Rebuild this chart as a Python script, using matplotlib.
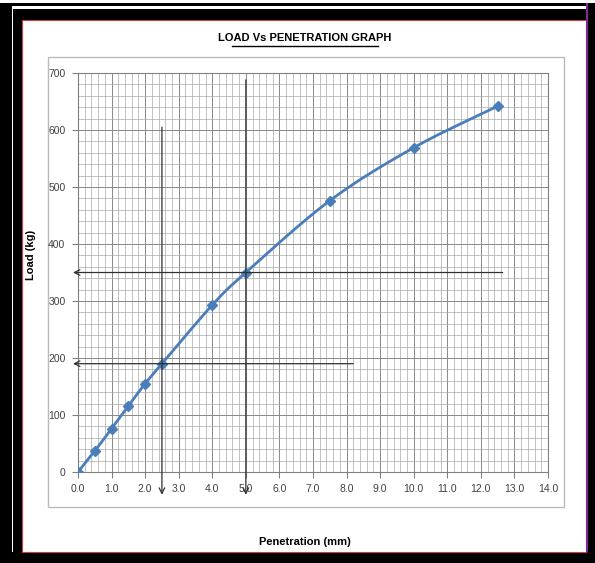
import numpy as np
import matplotlib.pyplot as plt
from matplotlib.patches import Rectangle
from matplotlib.lines import Line2D

# CBR test readings
penetration = [0.0, 0.5, 1.0, 1.5, 2.0, 2.5, 4.0, 5.0, 7.5, 10.0, 12.5]
load = [0, 37, 76, 116, 155, 190, 293, 350, 476, 569, 642]

read_pen = [2.5, 5.0]
read_load = [190, 350]

x_ticks = np.arange(0, 14.5, 1.0)
y_ticks = np.arange(0, 701, 100)

plt.rcParams['font.family'] = ['Liberation Sans Narrow', 'Liberation Sans', 'DejaVu Sans']

W, H = 595, 563


def smooth(xs, ys, n=30):
    # catmull-rom style curve through the points, like a smoothed office chart line
    xs = np.asarray(xs, float)
    ys = np.asarray(ys, float)
    px = np.concatenate([[2 * xs[0] - xs[1]], xs, [2 * xs[-1] - xs[-2]]])
    py = np.concatenate([[2 * ys[0] - ys[1]], ys, [2 * ys[-1] - ys[-2]]])
    ox, oy = [], []
    for i in range(1, len(px) - 2):
        t = np.linspace(0, 1, n)
        for p, o in ((px, ox), (py, oy)):
            p0, p1, p2, p3 = p[i - 1], p[i], p[i + 1], p[i + 2]
            b1 = p1 + (p2 - p0) / 6
            b2 = p2 - (p3 - p1) / 6
            o.extend((1 - t) ** 3 * p1 + 3 * (1 - t) ** 2 * t * b1 + 3 * (1 - t) * t ** 2 * b2 + t ** 3 * p2)
    return ox, oy


fig = plt.figure(figsize=(W / 100, H / 100), dpi=100)
fig.patch.set_facecolor('white')


def box(x0, y0, x1, y1, **kw):
    # rectangle given in pixel coords from the top-left corner
    fig.patches.append(Rectangle((x0 / W, 1 - y1 / H), (x1 - x0) / W, (y1 - y0) / H,
                                 transform=fig.transFigure, zorder=-5, **kw))


# outer black frame
box(0, 3, W, H, facecolor='black', edgecolor='none')
box(12, 6, 586, 552, facecolor='white', edgecolor='none')
box(13, 9, 586, 552, facecolor='black', edgecolor='none')
box(22, 20, 586, 552, facecolor='white', edgecolor='#d04040', linewidth=0.8)
box(586, 3, 587.5, 552, facecolor='#7a2a9a', edgecolor='none')
# chart area border
box(48, 57, 564, 507, facecolor='white', edgecolor='#bbbbbb', linewidth=1.0)

ax = fig.add_axes([78 / W, 1 - 472 / H, (548 - 78) / W, (472 - 73) / H])
ax.set_xlim(0, 14)
ax.set_ylim(0, 700)
ax.set_xticks(x_ticks)
ax.set_xticklabels(['%.1f' % v for v in x_ticks])
ax.set_yticks(y_ticks)
ax.set_xticks(np.arange(0, 14.01, 0.2), minor=True)
ax.set_yticks(np.arange(0, 701, 20), minor=True)
ax.tick_params(which='minor', length=0)
ax.tick_params(which='major', length=4, width=0.8, color='#808080', labelsize=7.5,
               labelcolor='#404040', pad=5)
ax.grid(which='major', color='#888888', linewidth=0.7)
ax.grid(which='minor', color='#aaaaaa', linewidth=0.5)
ax.set_axisbelow(True)
for s in ax.spines.values():
    s.set_color('#808080')
    s.set_linewidth(0.8)

sx, sy = smooth(penetration, load)
ax.plot(sx, sy, color='#4a7ebb', linewidth=2, zorder=3)
ax.plot(penetration, load, linestyle='none', marker='D', markersize=5,
        color='#4a7ebb', zorder=4)

# read-off lines with arrows pointing at the axes
ends_x = [8.2, 12.65]
tops_y = [605, 688]
for px, py, ex, ty in zip(read_pen, read_load, ends_x, tops_y):
    ax.annotate('', xy=(px, -40), xytext=(px, ty), xycoords='data',
                arrowprops=dict(arrowstyle='->', color='#303030', lw=0.9,
                                shrinkA=0, shrinkB=0, mutation_scale=10),
                annotation_clip=False, zorder=5)
    ax.annotate('', xy=(-0.15, py), xytext=(ex, py), xycoords='data',
                arrowprops=dict(arrowstyle='->', color='#303030', lw=0.9,
                                shrinkA=0, shrinkB=0, mutation_scale=10),
                annotation_clip=False, zorder=5)

fig.text(305 / W, 1 - 38 / H, 'LOAD Vs PENETRATION GRAPH', ha='center', va='center',
         fontsize=8, fontweight='bold')
fig.lines.append(Line2D([232 / W, 378 / W], [1 - 46 / H, 1 - 46 / H],
                        transform=fig.transFigure, color='black', linewidth=1))
fig.text(305 / W, 1 - 542 / H, 'Penetration (mm)', ha='center', va='center',
         fontsize=8, fontweight='bold')
fig.text(31 / W, 1 - 255 / H, 'Load (kg)', ha='center', va='center', rotation=90,
         fontsize=8, fontweight='bold')

fig.savefig('out.png', dpi=100)
